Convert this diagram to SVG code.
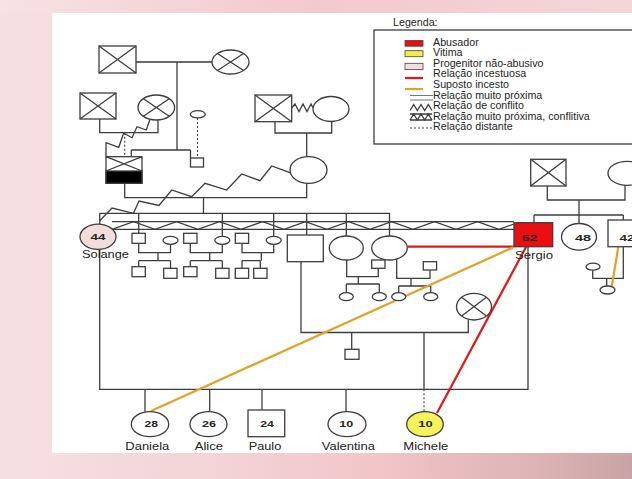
<svg xmlns="http://www.w3.org/2000/svg" width="632" height="479" viewBox="0 0 632 479">
<defs>
<linearGradient id="bg" x1="0" y1="0" x2="1" y2="0">
<stop offset="0" stop-color="#f6e0e3"/>
<stop offset="0.35" stop-color="#f3d3d6"/>
<stop offset="0.6" stop-color="#f2c5c8"/>
<stop offset="0.85" stop-color="#ddb3b5"/>
<stop offset="1" stop-color="#c9a3a5"/>
</linearGradient>
<linearGradient id="topbg" x1="0" y1="0" x2="1" y2="0">
<stop offset="0" stop-color="#f7e2e5"/>
<stop offset="0.5" stop-color="#f3c9cc"/>
<stop offset="1" stop-color="#f4d6d8"/>
</linearGradient>
<style>
.ln{stroke:#3d3d3d;stroke-width:1.3;fill:none}
.nd{stroke:#3d3d3d;stroke-width:1.3;fill:#fff}
.dot{stroke:#3d3d3d;stroke-width:1.1;fill:none;stroke-dasharray:2 2}
.red{stroke:#e01818;stroke-width:2.2;fill:none}
.org{stroke:#e3a12a;stroke-width:2.2;fill:none}
.t{font-family:"Liberation Sans",Arial,Helvetica,sans-serif;fill:#222;font-size:10.5px}
.lg{font-family:"Liberation Sans",Arial,Helvetica,sans-serif;fill:#1e1e1e;font-size:10.7px}
.n{font-family:"Liberation Sans",Arial,Helvetica,sans-serif;fill:#262626;font-size:9px;font-weight:bold;text-anchor:middle}
</style>
</defs>
<rect x="0" y="0" width="632" height="479" fill="url(#bg)"/>
<rect x="0" y="0" width="632" height="13" fill="url(#topbg)"/>
<rect x="52" y="13" width="580" height="440" fill="#ffffff"/>

<g id="legend">
<text class="lg" x="393" y="26">Legenda:</text>
<rect x="374" y="30" width="262" height="114" class="ln"/>
<rect x="405" y="40.5" width="18" height="5.7" fill="#e61010" stroke="#444" stroke-width="0.8"/>
<rect x="405" y="50.7" width="18" height="6" fill="#f4ee4a" stroke="#444" stroke-width="0.8"/>
<rect x="405" y="63.3" width="18" height="6.3" fill="#f2dede" stroke="#444" stroke-width="0.8"/>
<line x1="405" y1="78" x2="423" y2="78" class="red"/>
<line x1="405" y1="89" x2="423" y2="89" class="org"/>
<path d="M410,95.5H433M410,100H433" stroke="#777" stroke-width="1" fill="none"/>
<polyline points="410,110.5 413.7,104.5 417.3,110.5 421,104.5 424.7,110.5 428.3,104.5 432,110.5" class="ln" stroke-width="1"/>
<path d="M410,114H432M410,120H432" class="ln" stroke-width="1"/>
<polyline points="410,120 413.7,114 417.3,120 421,114 424.7,120 428.3,114 432,120" class="ln" stroke-width="1"/>
<line x1="410" y1="128" x2="433" y2="128" class="dot"/>
<text class="lg" x="433" y="45.5">Abusador</text>
<text class="lg" x="433" y="56.1">Vitima</text>
<text class="lg" x="433" y="66.7">Progenitor não-abusivo</text>
<text class="lg" x="433" y="77.3">Relação incestuosa</text>
<text class="lg" x="433" y="87.9">Suposto incesto</text>
<text class="lg" x="433" y="98.5">Relação muito próxima</text>
<text class="lg" x="433" y="109.1">Relação de conflito</text>
<text class="lg" x="433" y="119.7">Relação muito próxima, conflitiva</text>
<text class="lg" x="433" y="130.3">Relação distante</text>
</g>

<g id="connectors">
<path class="ln" d="M136,62H212M177,62V150M131.3,150H190.5M131.3,150V156.7M190.5,150V158"/>
<path class="ln" d="M99.7,119V132.7H158V120"/>
<line class="dot" x1="124.7" y1="132.7" x2="124.7" y2="156.7"/>
<polyline class="ln" points="106,156.7 106,142.7 118.7,147.3 123.7,133.3 132,137.7 137,126.7 146.3,130 150.3,118.5"/>
<line class="dot" x1="197.5" y1="118" x2="197.5" y2="158"/>
<path class="ln" d="M124.7,183.3V197.7H306.7V183.3M203.5,197.7V213.3"/>
<path class="ln" d="M275,121.7V133H331.7V121.5M306.7,133V156.7"/>
<polyline class="ln" points="291.7,108 295,104 299,111.5 303,104 307,111.5 311,104 313,108"/>
<polyline class="ln" points="99.5,221 112,208 133.5,213.3 139,201 159,205.5 171.7,190 191.7,196.7 205,183.3 226.7,190 241.7,174 260,180.7 271.7,166 290,172.7"/>
<path class="ln" d="M99.7,213.3H390M99.7,213.3V224.3M138.7,213.3V233.3M222.3,213.3V236.3M273.7,213.3V236.3M306.7,213.3V235M346.3,213.3V236M389.5,213.3V236"/>
<path class="ln" d="M112,221.7H514M112.6,229.3H514"/>
<polyline class="ln" points="112,229.3 133.5,221.7 155,229.3 176.5,221.7 198,229.3 219.5,221.7 241,229.3 262.5,221.7 284,229.3 305.5,221.7 327,229.3 348.5,221.7 370,229.3 391.5,221.7 413,229.3 434.5,221.7 456,229.3 477.5,221.7 499,229.3 514,224"/>
<path class="ln" d="M138.7,243.3V252.7H170.5V244.3M158,252.7V260.7M138.7,260.7H170.5M138.7,260.7V266.7M170.5,260.7V268.3"/>
<path class="ln" d="M190.3,243.3V252.7H222.3V244.3M209.7,252.7V260.7M190.3,260.7H222.3M190.3,260.7V266.7M222.3,260.7V268.3"/>
<path class="ln" d="M242,243.3V252.7H273.7V244.3M261.3,252.7V260.7M242,260.7H260.3M242,260.7V268.3M260.3,260.7V268.3"/>
<path class="ln" d="M301,261.7V332.5H468.3V320M351.7,332.5V349.3M424,332.5V389.3"/>
<line class="dot" x1="424" y1="389.3" x2="424" y2="411.7"/>
<path class="ln" d="M346.7,260V276.7H378.3V268.3M358.3,276.7V284M346.3,284H379.3M346.3,284V292.7M379.3,284V292.7"/>
<path class="ln" d="M396.7,259V278.3H430V270M411,278.3V286M398.7,286H430.7M398.7,286V292.7M430.7,286V292.7"/>
<path class="ln" d="M99.7,249.3V389.3H528V246.7M145,389.3V411.7M209.7,389.3V411.7M262,389.3V410M346,389.3V411.7"/>
<path class="ln" d="M547.3,186V200H625V185.3M579,200V215M534,215H623.3M534,215V222.7M579,215V223.4M623.3,215V220"/>
<path class="ln" d="M592.7,270.2V278.3H623.3V246.7M606.7,278.3V286"/>
<line class="red" x1="407.3" y1="246.7" x2="514" y2="246.7"/>
<line class="red" x1="526" y1="247" x2="437" y2="413"/>
<line class="org" x1="514" y1="247" x2="151" y2="411"/>
<line class="org" x1="618.3" y1="246.7" x2="611.7" y2="287"/>
</g>

<g id="gf1"><rect class="nd" x="99" y="46" width="37" height="27"/><path class="ln" d="M99,46L136,73M136,46L99,73"/></g>
<g id="gm1"><ellipse class="nd" cx="230.5" cy="62" rx="18.5" ry="12"/><path class="ln" d="M217.4,53.5L243.6,70.5M243.6,53.5L217.4,70.5"/></g>
<g id="gf2"><rect class="nd" x="80" y="93" width="36" height="26"/><path class="ln" d="M80,93L116,119M116,93L80,119"/></g>
<g id="gm2"><ellipse class="nd" cx="156.3" cy="107.5" rx="18.3" ry="12.5"/><path class="ln" d="M143.4,98.7L169.2,116.3M169.2,98.7L143.4,116.3"/></g>
<g id="father"><rect class="nd" x="106" y="156.7" width="36" height="26.6"/><path class="ln" d="M106,156.7L142,171M142,156.7L106,171"/><rect x="106" y="171" width="36" height="12.3" fill="#000" stroke="#3d3d3d" stroke-width="1.3"/></g>
<g id="half-sib-mother"><ellipse class="nd" cx="197.8" cy="114.3" rx="7.5" ry="3.6"/></g>
<g id="half-sib"><rect class="nd" x="190.5" y="158" width="13" height="9"/></g>
<g id="gf3"><rect class="nd" x="255" y="95" width="36.7" height="26.7"/><path class="ln" d="M255,95L291.7,121.7M291.7,95L255,121.7"/></g>
<g id="gm3"><ellipse class="nd" cx="331" cy="109" rx="18" ry="12.5"/></g>
<g id="mother"><ellipse class="nd" cx="308.5" cy="170" rx="18.5" ry="13.3"/></g>

<g id="solange"><ellipse cx="98" cy="236.8" rx="18" ry="12.6" fill="#f3dcdc" stroke="#3d3d3d" stroke-width="1.3"/><text class="n" x="98" y="240.3" textLength="15" lengthAdjust="spacingAndGlyphs">44</text><text class="t" x="82" y="258" textLength="47" lengthAdjust="spacingAndGlyphs">Solange</text></g>

<g id="sibA"><rect class="nd" x="132" y="233.3" width="13.3" height="10"/><ellipse class="nd" cx="170.5" cy="240.3" rx="7.5" ry="4"/><rect class="nd" x="132" y="266.7" width="13.3" height="10"/><rect class="nd" x="163.7" y="268.3" width="13.3" height="10"/></g>
<g id="sibB"><rect class="nd" x="183.7" y="233.3" width="13.3" height="10"/><ellipse class="nd" cx="222.3" cy="240.3" rx="7.5" ry="4"/><rect class="nd" x="183.7" y="266.7" width="13.3" height="10"/><rect class="nd" x="215.7" y="268.3" width="13.3" height="10"/></g>
<g id="sibC"><rect class="nd" x="235.3" y="233.3" width="13.3" height="10"/><ellipse class="nd" cx="273.7" cy="240.3" rx="7.5" ry="4"/><rect class="nd" x="235.3" y="268.3" width="13.3" height="10"/><rect class="nd" x="253.7" y="268.3" width="13.3" height="10"/></g>

<g id="brother"><rect class="nd" x="287.3" y="235" width="36" height="26.7"/></g>
<g id="brother-ex"><ellipse class="nd" cx="474" cy="306.7" rx="17.5" ry="13.3"/><path class="ln" d="M461.6,297.3L486.4,316.1M486.4,297.3L461.6,316.1"/></g>
<g id="brother-son"><rect class="nd" x="345" y="349.3" width="14" height="10"/></g>
<g id="sister1"><ellipse class="nd" cx="346.3" cy="248" rx="17" ry="12"/><rect class="nd" x="371.7" y="260" width="13.3" height="8.3"/><ellipse class="nd" cx="346.3" cy="296.7" rx="7" ry="4"/><ellipse class="nd" cx="379.3" cy="296.7" rx="7" ry="4"/></g>
<g id="sister2"><ellipse class="nd" cx="389.5" cy="248" rx="17.8" ry="12"/><rect class="nd" x="423.3" y="261.7" width="13.3" height="8.3"/><ellipse class="nd" cx="398.7" cy="296.7" rx="7" ry="4"/><ellipse class="nd" cx="430.7" cy="296.7" rx="7" ry="4"/></g>

<g id="sergio"><rect x="514" y="222.7" width="38.7" height="24" fill="#ea1010" stroke="#3d3d3d" stroke-width="1.3"/><text class="n" x="529.5" y="241" textLength="15.5" lengthAdjust="spacingAndGlyphs">52</text><text class="t" x="515" y="258.5" textLength="38" lengthAdjust="spacingAndGlyphs">Sergio</text></g>
<g id="sergio-father"><rect class="nd" x="530.7" y="159.3" width="35.3" height="26.7"/><path class="ln" d="M530.7,159.3L566,186M566,159.3L530.7,186"/></g>
<g id="sergio-mother"><ellipse class="nd" cx="627" cy="173.3" rx="19" ry="12"/></g>
<g id="sib48"><ellipse class="nd" cx="579" cy="236.8" rx="17.5" ry="13.3"/><text class="n" x="583" y="241" textLength="16" lengthAdjust="spacingAndGlyphs">48</text></g>
<g id="sib42"><rect class="nd" x="608" y="220" width="36" height="26.7"/><text class="n" x="627" y="241" textLength="15" lengthAdjust="spacingAndGlyphs">42</text></g>
<g id="sib42-wife"><ellipse class="nd" cx="593" cy="266.7" rx="7" ry="3.5"/></g>
<g id="sib42-child"><ellipse class="nd" cx="607.5" cy="290" rx="7.5" ry="4"/></g>

<g id="daniela"><ellipse class="nd" cx="150" cy="424.2" rx="18.7" ry="12.5"/><text class="n" x="151.3" y="426.7" textLength="13.5" lengthAdjust="spacingAndGlyphs">28</text><text class="t" x="125.3" y="449.5" textLength="44" lengthAdjust="spacingAndGlyphs">Daniela</text></g>
<g id="alice"><ellipse class="nd" cx="208.5" cy="424.2" rx="18.5" ry="12.5"/><text class="n" x="209" y="426.7" textLength="14" lengthAdjust="spacingAndGlyphs">26</text><text class="t" x="194.7" y="449.5" textLength="28.3" lengthAdjust="spacingAndGlyphs">Alice</text></g>
<g id="paulo"><rect class="nd" x="248" y="410" width="36.7" height="26.7"/><text class="n" x="267" y="426.7" textLength="13.7" lengthAdjust="spacingAndGlyphs">24</text><text class="t" x="248.7" y="449.5" textLength="32.6" lengthAdjust="spacingAndGlyphs">Paulo</text></g>
<g id="valentina"><ellipse class="nd" cx="347" cy="424.2" rx="19" ry="12.5"/><text class="n" x="346.3" y="426.7" textLength="14" lengthAdjust="spacingAndGlyphs">10</text><text class="t" x="321.7" y="449.5" textLength="53.3" lengthAdjust="spacingAndGlyphs">Valentina</text></g>
<g id="michele"><ellipse cx="425" cy="424.2" rx="18.3" ry="12.5" fill="#f6f25a" stroke="#3d3d3d" stroke-width="1.3"/><text class="n" x="425.5" y="426.7" textLength="14.4" lengthAdjust="spacingAndGlyphs">10</text><text class="t" x="403.3" y="449.5" textLength="45" lengthAdjust="spacingAndGlyphs">Michele</text></g>
</svg>
